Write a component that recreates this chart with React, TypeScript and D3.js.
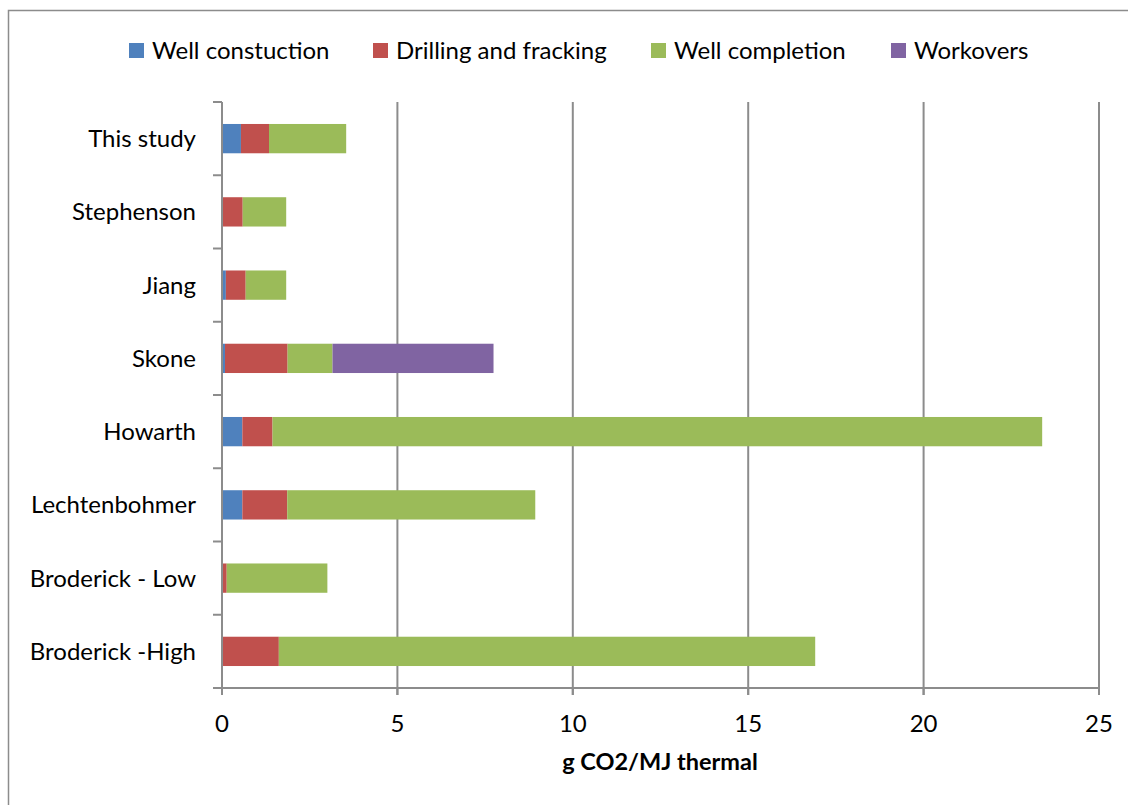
import React from "react";
import * as d3 from "d3";

const categories = ["This study", "Stephenson", "Jiang", "Skone", "Howarth", "Lechtenbohmer", "Broderick - Low", "Broderick -High"];
const seriesNames = ["Well constuction", "Drilling and fracking", "Well completion", "Workovers"];
const wellConstruction = [0.54, 0, 0.11, 0.085, 0.58, 0.58, 0, 0];
const drillingFracking = [0.8, 0.59, 0.565, 1.785, 0.86, 1.28, 0.134, 1.62];
const wellCompletion = [2.2, 1.24, 1.155, 1.28, 21.94, 7.07, 2.87, 15.29];
const workovers = [0, 0, 0, 4.59, 0, 0, 0, 0];
const xTicks = [0, 5, 10, 15, 20, 25];
const colors = ["#4F81BD", "#C0504D", "#9BBB59", "#8064A2"];
const xTitle = "g CO2/MJ thermal";

const W = 1128, H = 805;
const left = 222, right = 1099, top = 102, bottom = 688;
const FONT = "Lato, 'Open Sans', sans-serif";
const GRID = "#8c8c8c";

export default function App() {
  const rows = categories.map((c, i) => ({
    cat: c,
    s0: wellConstruction[i],
    s1: drillingFracking[i],
    s2: wellCompletion[i],
    s3: workovers[i],
  }));
  const keys = ["s0", "s1", "s2", "s3"];
  const stacked = d3.stack<any>().keys(keys)(rows);
  const x = d3.scaleLinear().domain([0, 25]).range([left, right]);
  const y = d3.scaleBand<string>().domain(categories).range([top, bottom]).paddingInner(0.6).paddingOuter(0.3);
  const step = y.step();
  const boundaries = d3.range(categories.length + 1).map((i) => top + i * step);

  const legendX = [129, 373, 651, 891];

  return (
    <svg width={W} height={H} style={{ position: "absolute", left: 0, top: 0, background: "#fff" }} fontFamily={FONT}>
      <rect x={0} y={0} width={W} height={H} fill="#fff" />
      <rect x={8.5} y={10.5} width={W + 20} height={H + 20} fill="none" stroke={GRID} strokeWidth={1.5} />
      {/* gridlines */}
      {xTicks.slice(1).map((t) => (
        <line key={"g" + t} x1={x(t)} x2={x(t)} y1={top} y2={bottom + 7} stroke={GRID} strokeWidth={2} />
      ))}
      {/* bars */}
      {stacked.map((layer, li) =>
        layer.map((d, i) => {
          const w = x(d[1]) - x(d[0]);
          if (w <= 0) return null;
          return (
            <rect key={li + "-" + i} x={x(d[0])} y={y(categories[i])} width={w} height={y.bandwidth()} fill={colors[li]} />
          );
        })
      )}
      {/* y axis */}
      <line x1={left} x2={left} y1={top} y2={bottom + 7} stroke={GRID} strokeWidth={2} />
      {boundaries.map((b, i) => (
        <line key={"yt" + i} x1={left - 9} x2={left} y1={b} y2={b} stroke={GRID} strokeWidth={2} />
      ))}
      {/* x axis */}
      <line x1={left - 9} x2={right} y1={bottom} y2={bottom} stroke={GRID} strokeWidth={2} />
      {xTicks.map((t) => (
        <line key={"xt" + t} x1={x(t)} x2={x(t)} y1={bottom} y2={bottom + 7} stroke={GRID} strokeWidth={2} />
      ))}
      {xTicks.map((t) => (
        <text key={"xl" + t} x={x(t)} y={724} dy="0.35em" textAnchor="middle" fontSize={24} fill="#000">
          {t}
        </text>
      ))}
      <text x={660} y={762} dy="0.35em" textAnchor="middle" fontSize={23.5} fontWeight="bold" fill="#000">
        {xTitle}
      </text>
      {/* category labels */}
      {categories.map((c) => (
        <text key={c} x={196} y={(y(c) as number) + y.bandwidth() / 2} dy="0.35em" textAnchor="end" fontSize={24} fill="#000">
          {c}
        </text>
      ))}
      {/* legend */}
      {seriesNames.map((s, i) => (
        <g key={s}>
          <rect x={legendX[i]} y={43} width={15} height={15} fill={colors[i]} />
          <text x={legendX[i] + 23} y={50.5} dy="0.35em" fontSize={24} fill="#000">
            {s}
          </text>
        </g>
      ))}
    </svg>
  );
}
